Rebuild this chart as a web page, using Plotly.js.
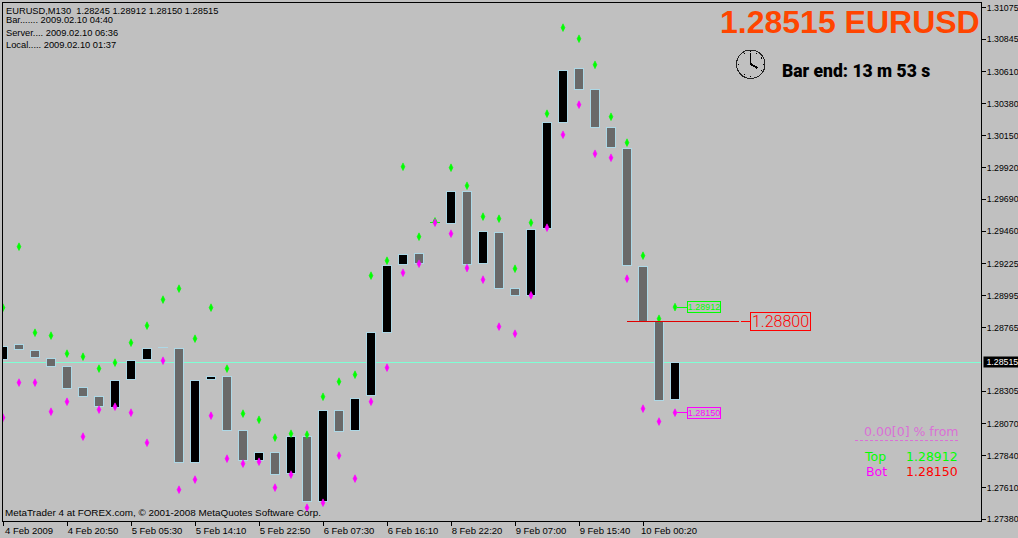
<!DOCTYPE html>
<html>
<head>
<meta charset="utf-8">
<script src="https://cdn.plot.ly/plotly-3.0.1.min.js"></script>
<style>html,body{margin:0;padding:0;background:#c0c0c0;overflow:hidden}#chart{width:1018px;height:538px}
.shapelayer path,.errorbars path,.bars path{shape-rendering:crispEdges !important}</style>
</head>
<body>
<div id="chart"></div>
<script>
const opens = [1.28535,1.28641,1.28597,1.28544,1.28486,1.28330,1.28270,1.28188,1.28388,1.28535,1.28619,1.28616,1.27789,1.28388,1.28414,1.28024,1.27804,1.27861,1.27710,1.27977,1.27512,1.28169,1.28020,1.28275,1.28730,1.29220,1.29302,1.29521,1.29514,1.29749,1.29225,1.29453,1.29045,1.28997,1.29478,1.30243,1.30637,1.30485,1.30211,1.30060,1.29208,1.28809,1.28245];
const closes = [1.28631,1.28605,1.28547,1.28482,1.28323,1.28265,1.28193,1.28385,1.28530,1.28616,1.28619,1.27789,1.28385,1.28414,1.28020,1.27804,1.27866,1.27703,1.27981,1.27508,1.28169,1.28017,1.28253,1.28732,1.29213,1.29292,1.29225,1.29521,1.29749,1.29220,1.29461,1.29047,1.28997,1.29475,1.30247,1.30623,1.30481,1.30211,1.30063,1.29213,1.28809,1.28239,1.28515];
const upFractals = [1.28908,1.29348,1.28727,1.28706,1.28576,1.28554,1.28468,1.28511,1.28655,1.28778,1.28966,1.29045,1.28684,1.28908,1.28468,1.28143,1.28099,1.27970,1.27998,1.27991,1.28265,1.28374,1.28424,1.29139,1.29247,1.29925,1.29420,1.29531,1.29918,1.29788,1.29565,1.29550,1.29189,1.29521,1.30308,1.30929,1.30849,1.30661,1.30286,1.30099,1.29283,1.28828,1.28912];
const downFractals = [1.28114,1.28367,1.28367,1.28157,1.28229,1.27977,1.28172,1.28193,1.28150,1.27933,1.28525,1.27594,1.27667,1.28128,1.27818,1.27782,1.27796,1.27609,1.27703,1.27464,1.27500,1.27840,1.27674,1.28229,1.28475,1.29160,1.29225,1.29521,1.29442,1.29194,1.29110,1.28771,1.28720,1.28997,1.29485,1.30156,1.30373,1.30019,1.29990,1.29117,1.28179,1.28086,1.28150];
const xTickIdx = [0,4,8,12,16,20,24,28,32,36,40];
const xTickLabels = ["4 Feb 2009","4 Feb 20:50","5 Feb 05:30","5 Feb 14:10","5 Feb 22:50","6 Feb 07:30","6 Feb 16:10","8 Feb 22:20","9 Feb 07:00","9 Feb 15:40","10 Feb 00:20"];
const yTicks = [1.31075,1.30845,1.30610,1.30380,1.30150,1.29920,1.29690,1.29460,1.29225,1.28995,1.28765,1.28305,1.28070,1.27840,1.27610,1.27380];
const bid = 1.28515, top5 = 1.28912, bot5 = 1.28150, level = 1.28811;
const infoLines = ["EURUSD,M130&nbsp;&nbsp;1.28245 1.28912 1.28150 1.28515","Bar....... 2009.02.10 04:40","Server.... 2009.02.10 06:36","Local..... 2009.02.10 01:37"];

const idx = opens.map((_, i) => i);
const L=3,R=981,T=3,B=521,W=1018,H=538;
const xMax=(R-L)/16;
const px = v => (v-L)/(R-L), py = v => (B-v)/(B-T);
const FONT="Liberation Sans";
const isDoji = i => opens[i]===closes[i];
const solid = idx.filter(i=>!isDoji(i));

const txt=(x,y,text,color,size,family,weight)=>({xref:'paper',yref:'paper',x:px(x),y:py(y),text,showarrow:false,xanchor:'left',yanchor:'middle',
  font:{family:family||FONT,size,color,weight:weight||400},borderwidth:0,borderpad:0});

const fractalMarker=c=>({symbol:'diamond-tall',size:5.5,color:c,line:{color:c,width:0.6}});
const traces=[
 {type:'bar',x:solid,base:solid.map(i=>Math.min(opens[i],closes[i])),y:solid.map(i=>Math.abs(opens[i]-closes[i])),width:0.61,
  marker:{color:solid.map(i=>closes[i]>opens[i]?'#000000':'#696969'),line:{color:'#add8e6',width:1}}},
 {type:'scatter',mode:'markers',x:[10],y:[closes[10]],marker:{size:1,color:'#add8e6',opacity:0},error_x:{type:'constant',value:0.34,color:'#add8e6',thickness:1,width:0}},
 {type:'scatter',mode:'markers',x:[27],y:[closes[27]],marker:{size:1,color:'#00ff00',opacity:0},error_x:{type:'constant',value:0.34,color:'#00ff00',thickness:1,width:0}},
 {type:'scatter',mode:'markers',x:idx,y:upFractals,marker:fractalMarker('#00ff00')},
 {type:'scatter',mode:'markers',x:idx,y:downFractals,marker:fractalMarker('#ff00ff')}
];

const shapes=[
 {type:'line',layer:'below',xref:'paper',yref:'y',x0:0,x1:1,y0:bid,y1:bid,line:{color:'#7fffd4',width:1}},
 {type:'line',xref:'x',yref:'y',x0:39,x1:46,y0:level,y1:level,line:{color:'#e00000',width:1}},
 {type:'line',xref:'x',yref:'y',x0:46.1,x1:46.7,y0:level-0.00006,y1:level-0.00006,line:{color:'#ff0000',width:1}},
 {type:'line',xref:'x',yref:'y',x0:42.1,x1:42.75,y0:top5,y1:top5,line:{color:'#00ff00',width:1}},
 {type:'line',xref:'x',yref:'y',x0:42.1,x1:42.75,y0:bot5,y1:bot5,line:{color:'#ff00ff',width:1}},
 {type:'line',xref:'paper',yref:'paper',x0:px(855),x1:px(958),y0:py(440.5),y1:py(440.5),line:{color:'#da70d6',width:1,dash:'3px,2px'}},
 {type:'circle',xref:'paper',yref:'paper',x0:px(736.5),x1:px(765),y0:py(78.5),y1:py(50),line:{color:'#222',width:1}},
 {type:'line',xref:'paper',yref:'paper',x0:px(750.5),x1:px(750.5),y0:py(65),y1:py(52.5),line:{color:'#000',width:1}},
 {type:'line',xref:'paper',yref:'paper',x0:px(750.5),x1:px(757.5),y0:py(64),y1:py(68),line:{color:'#000',width:2}}
];
for(let h=0;h<12;h++){
 const a=h*Math.PI/6, c=[750.7,64.2];
 shapes.push({type:'line',xref:'paper',yref:'paper',x0:px(c[0]+Math.sin(a)*12),x1:px(c[0]+Math.sin(a)*12.8),y0:py(c[1]-Math.cos(a)*12),y1:py(c[1]-Math.cos(a)*12.8),line:{color:'#000',width:1}});
}

const annotations=[
 txt(5.7,10.5,infoLines[0],'#000',9.3),
 txt(5.7,20.5,infoLines[1],'#000',9.3),
 txt(5.7,32.5,infoLines[2],'#000',9.3),
 txt(5.7,44.5,infoLines[3],'#000',9.3),
 txt(5,512.5,"MetaTrader 4 at FOREX.com, © 2001-2008 MetaQuotes Software Corp.",'#000',9.9),
 txt(719.5,22,"1.28515 EURUSD",'#ff4500',32,FONT,700),
 txt(782,71,"Bar end: 13 m 53 s",'#000',17.5,"Roboto",900),
 {xref:'paper',yref:'paper',x:px(780),y:py(321.5),text:"1.28800",showarrow:false,xanchor:'center',yanchor:'middle',font:{family:"Roboto",weight:300,size:16,color:'#ff0000'},bordercolor:'#ff0000',borderwidth:1,borderpad:1,width:57,height:15},
 {xref:'paper',yref:'paper',x:px(703.5),y:py(307.3),text:"1.28912",showarrow:false,xanchor:'center',yanchor:'middle',font:{family:FONT,size:9,color:'#00ff00'},bordercolor:'#00ff00',borderwidth:1,borderpad:0,width:32,height:10},
 {xref:'paper',yref:'paper',x:px(703.5),y:py(412.5),text:"1.28150",showarrow:false,xanchor:'center',yanchor:'middle',font:{family:FONT,size:9,color:'#ff00ff'},bordercolor:'#ff00ff',borderwidth:1,borderpad:0,width:32,height:10},
 txt(864,431,"0.00[0] % from",'#da70d6',12.5,"DejaVu Sans"),
 txt(864,456,"Top",'#00ff00',12.5,"DejaVu Sans"),
 txt(906,456,"1.28912",'#00ff00',12.5,"DejaVu Sans"),
 txt(866,471,"Bot",'#ff00ff',12.5,"DejaVu Sans"),
 txt(906,471,"1.28150",'#ff0000',12.5,"DejaVu Sans"),
 {xref:'paper',yref:'paper',x:px(983),y:py(362),text:"&nbsp;"+bid.toFixed(5),showarrow:false,xanchor:'left',yanchor:'middle',font:{family:FONT,size:8.8,color:'#fff'},bgcolor:'#000',borderpad:0}
];

const axisBase={showgrid:false,zeroline:false,showline:true,mirror:true,linecolor:'#000',linewidth:1,ticks:'outside',ticklen:4,tickwidth:1,tickcolor:'#000',automargin:false,tickmode:'array'};
const layout={
 width:W,height:H,showlegend:false,hovermode:false,paper_bgcolor:'#c0c0c0',plot_bgcolor:'#c0c0c0',
 margin:{l:L,r:W-R,t:T,b:H-B,pad:0},barmode:'overlay',
 font:{family:FONT,size:10,color:'#000'},
 xaxis:Object.assign({},axisBase,{range:[0,xMax],tickvals:xTickIdx,ticktext:xTickLabels,ticklabelshift:26,ticklabelstandoff:-3,tickfont:{family:FONT,size:9.5,color:'#000'}}),
 yaxis:Object.assign({},axisBase,{side:'right',range:[1.27368,1.31107],tickvals:yTicks,ticktext:yTicks.map(v=>v.toFixed(5)),ticklabelstandoff:-1,tickfont:{family:FONT,size:8.8,color:'#000'}}),
 shapes,annotations
};
Plotly.newPlot('chart',traces,layout,{displayModeBar:false,staticPlot:true});
</script>
</body>
</html>
